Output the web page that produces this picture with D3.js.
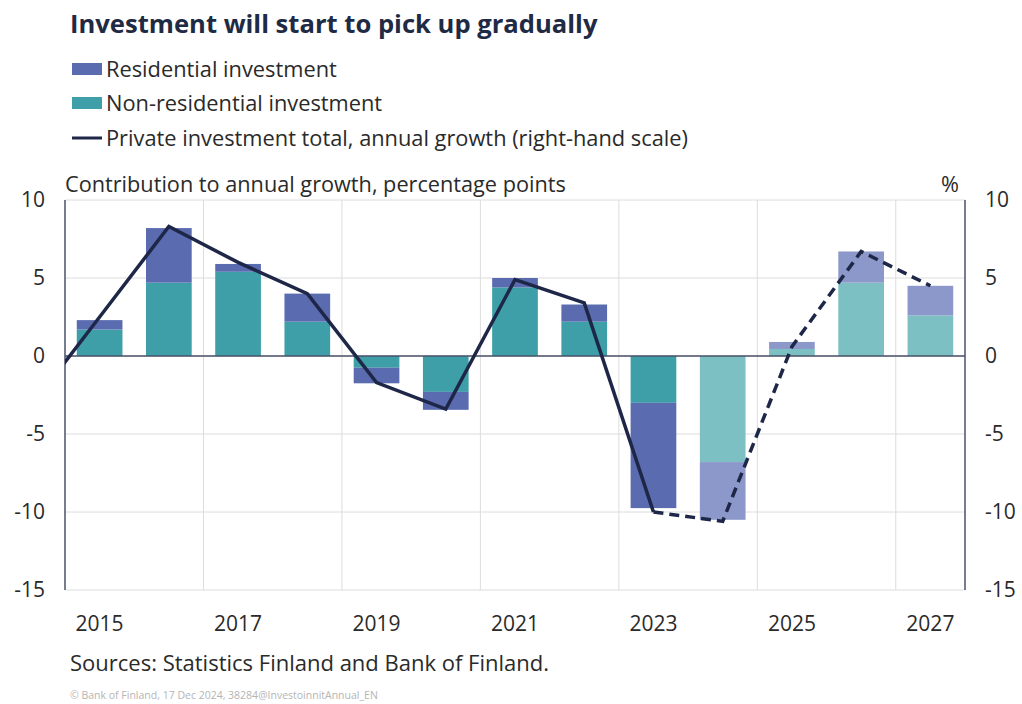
<!DOCTYPE html>
<html>
<head>
<meta charset="utf-8">
<script src="https://cdn.jsdelivr.net/npm/d3@7"></script>
<style>
  body { margin: 0; background: #fff; }
  text { font-family: "Open Sans", Lato, sans-serif; }
</style>
</head>
<body>
<div id="chart"></div>
<script>
var years = [2015, 2016, 2017, 2018, 2019, 2020, 2021, 2022, 2023, 2024, 2025, 2026, 2027];
var residential = [0.6, 3.5, 0.5, 1.8, -1.0, -1.15, 0.6, 1.1, -6.75, -3.7, 0.45, 2.0, 1.9];
var nonResidential = [1.7, 4.7, 5.4, 2.2, -0.75, -2.3, 4.4, 2.2, -3.0, -6.8, 0.45, 4.7, 2.6];
// line starts from 2014 (clipped at the left edge)
var lineYears = [2014, 2015, 2016, 2017, 2018, 2019, 2020, 2021, 2022, 2023, 2024, 2025, 2026, 2027];
var totalGrowth = [-3.3, 2.5, 8.3, 6.0, 4.0, -1.7, -3.4, 4.9, 3.4, -10.0, -10.6, 0.6, 6.7, 4.5];
var forecastFrom = 2024;
var lineForecastFrom = 2023;
var yTicks = [10, 5, 0, -5, -10, -15];
var xTickYears = [2015, 2017, 2019, 2021, 2023, 2025, 2027];

function init() {
  var w = 1022, h = 704;
  var plotLeft = 65, plotRight = 965, plotTop = 200, plotBottom = 590;

  var svg = d3.select("#chart").append("svg")
    .attr("width", w)
    .attr("height", h);

  var x = d3.scaleLinear()
    .domain([2014.5, 2027.5])
    .range([plotLeft, plotRight]);

  var y = d3.scaleLinear()
    .domain([-15, 10])
    .range([plotBottom, plotTop]);

  var step = x(1) - x(0);
  var barW = step * 0.66;

  // colours
  var colRes = "#5a6bb0", colNon = "#3e9fa8";
  var colResF = "#8c98c9", colNonF = "#7cc0c3";
  var navy = "#1e2747";
  var textCol = "#2a2a2a";

  // gridlines
  svg.append("g")
    .selectAll("line")
    .data(yTicks)
    .enter()
    .append("line")
    .attr("x1", plotLeft).attr("x2", plotRight)
    .attr("y1", function(d) { return y(d); })
    .attr("y2", function(d) { return y(d); })
    .style("stroke", "#dcdcdc")
    .style("stroke-width", 1);

  svg.append("g")
    .selectAll("line")
    .data(xTickYears.slice(1))
    .enter()
    .append("line")
    .attr("x1", function(d) { return x(d - 0.5); })
    .attr("x2", function(d) { return x(d - 0.5); })
    .attr("y1", plotTop).attr("y2", plotBottom)
    .style("stroke", "#dcdcdc")
    .style("stroke-width", 1);

  // stacked bars
  var rows = years.map(function(yr, i) {
    return { year: yr, res: residential[i], non: nonResidential[i] };
  });

  var bars = svg.append("g");
  rows.forEach(function(d) {
    var fc = d.year >= forecastFrom;
    // non-residential sits next to the zero line, residential stacks on top
    var n0 = 0, n1 = d.non;
    var r0 = d.non, r1 = d.non + d.res;
    bars.append("rect")
      .attr("x", x(d.year) - barW / 2)
      .attr("width", barW)
      .attr("y", y(Math.max(n0, n1)))
      .attr("height", Math.abs(y(n0) - y(n1)))
      .style("fill", fc ? colNonF : colNon);
    bars.append("rect")
      .attr("x", x(d.year) - barW / 2)
      .attr("width", barW)
      .attr("y", y(Math.max(r0, r1)))
      .attr("height", Math.abs(y(r0) - y(r1)))
      .style("fill", fc ? colResF : colRes);
  });

  // axis lines
  svg.append("line")
    .attr("x1", plotLeft).attr("x2", plotRight)
    .attr("y1", y(0)).attr("y2", y(0))
    .style("stroke", "#4a5068").style("stroke-width", 1.5);
  svg.append("line")
    .attr("x1", plotLeft).attr("x2", plotLeft)
    .attr("y1", plotTop).attr("y2", plotBottom)
    .style("stroke", "#4a5068").style("stroke-width", 1.5);
  svg.append("line")
    .attr("x1", plotRight).attr("x2", plotRight)
    .attr("y1", plotTop).attr("y2", plotBottom)
    .style("stroke", "#4a5068").style("stroke-width", 1.5);

  // line, clipped to plot area
  svg.append("clipPath").attr("id", "plotClip")
    .append("rect")
    .attr("x", plotLeft).attr("y", plotTop)
    .attr("width", plotRight - plotLeft).attr("height", plotBottom - plotTop);

  var pts = lineYears.map(function(yr, i) { return [yr, totalGrowth[i]]; });
  var line = d3.line()
    .x(function(d) { return x(d[0]); })
    .y(function(d) { return y(d[1]); });

  var lineG = svg.append("g").attr("clip-path", "url(#plotClip)");
  lineG.append("path")
    .attr("d", line(pts.filter(function(d) { return d[0] <= lineForecastFrom; })))
    .style("fill", "none")
    .style("stroke", navy)
    .style("stroke-width", 3.5);
  lineG.append("path")
    .attr("d", line(pts.filter(function(d) { return d[0] >= lineForecastFrom; })))
    .style("fill", "none")
    .style("stroke", navy)
    .style("stroke-width", 3.5)
    .style("stroke-dasharray", "10,6");

  // tick labels
  svg.append("g")
    .selectAll("text")
    .data(yTicks)
    .enter()
    .append("text")
    .attr("x", 45)
    .attr("y", function(d) { return y(d); })
    .attr("dy", "0.35em")
    .style("text-anchor", "end")
    .style("font-size", "21px")
    .style("fill", textCol)
    .text(function(d) { return d; });

  svg.append("g")
    .selectAll("text")
    .data(yTicks)
    .enter()
    .append("text")
    .attr("x", 985)
    .attr("y", function(d) { return y(d); })
    .attr("dy", "0.35em")
    .style("font-size", "21px")
    .style("fill", textCol)
    .text(function(d) { return d; });

  svg.append("g")
    .selectAll("text")
    .data(xTickYears)
    .enter()
    .append("text")
    .attr("x", function(d) { return x(d); })
    .attr("y", 631)
    .style("text-anchor", "middle")
    .style("font-size", "21px")
    .style("fill", textCol)
    .text(function(d) { return d; });

  // axis titles
  svg.append("text")
    .attr("x", 65).attr("y", 192)
    .style("font-size", "21.7px")
    .style("fill", textCol)
    .text("Contribution to annual growth, percentage points");
  svg.append("text")
    .attr("x", 950).attr("y", 192)
    .style("text-anchor", "middle")
    .style("font-size", "21.7px")
    .style("fill", textCol)
    .text("%");

  // title
  svg.append("text")
    .attr("x", 70).attr("y", 33)
    .style("font-size", "25.6px")
    .style("font-weight", "bold")
    .style("fill", "#1f2a44")
    .text("Investment will start to pick up gradually");

  // legend
  var legend = [
    { label: "Residential investment", type: "rect", colour: colRes, y: 69 },
    { label: "Non-residential investment", type: "rect", colour: colNon, y: 103 },
    { label: "Private investment total, annual growth (right-hand scale)", type: "line", colour: navy, y: 138 }
  ];
  legend.forEach(function(d) {
    if (d.type === "rect") {
      svg.append("rect")
        .attr("x", 72).attr("y", d.y - 6)
        .attr("width", 30).attr("height", 12)
        .style("fill", d.colour);
    } else {
      svg.append("line")
        .attr("x1", 72).attr("x2", 102)
        .attr("y1", d.y).attr("y2", d.y)
        .style("stroke", d.colour).style("stroke-width", 3);
    }
    svg.append("text")
      .attr("x", 106).attr("y", d.y)
      .attr("dy", "0.35em")
      .style("font-size", "21.8px")
      .style("fill", textCol)
      .text(d.label);
  });

  // sources and footer
  svg.append("text")
    .attr("x", 70).attr("y", 671)
    .style("font-size", "22px")
    .style("fill", textCol)
    .text("Sources: Statistics Finland and Bank of Finland.");
  svg.append("text")
    .attr("x", 70).attr("y", 699)
    .style("font-size", "10.5px")
    .style("fill", "#b5b5b5")
    .text("© Bank of Finland, 17 Dec 2024, 38284@InvestoinnitAnnual_EN");
}

init();
</script>
</body>
</html>
